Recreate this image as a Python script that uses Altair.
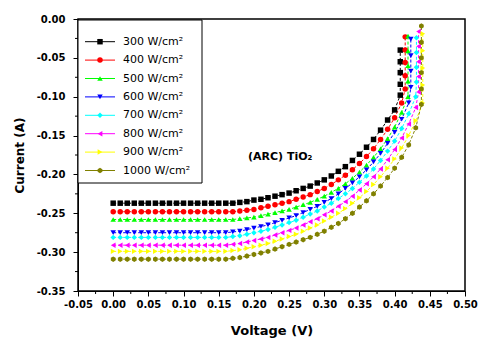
import altair as alt
import pandas as pd

# ---------------- data ----------------
SERIES = ["300 W/cm²", "400 W/cm²", "500 W/cm²", "600 W/cm²",
          "700 W/cm²", "800 W/cm²", "900 W/cm²", "1000 W/cm²"]
COLORS = ["#000000", "#FF0000", "#00FF00", "#0000FF",
          "#00FFFF", "#FF00FF", "#FFFF00", "#808000"]
HEX = "M0,-1L0.866,-0.5L0.866,0.5L0,1L-0.866,0.5L-0.866,-0.5Z"
SHAPES = ["square", "circle", "triangle-up", "triangle-down",
          "diamond", "triangle-left", "triangle-right", HEX]

V_GRID = [0.00, 0.01, 0.02, 0.03, 0.04, 0.05, 0.06, 0.07, 0.08, 0.09,
          0.10, 0.11, 0.12, 0.13, 0.14, 0.15, 0.16, 0.17, 0.18, 0.19,
          0.20, 0.21, 0.22, 0.23, 0.24, 0.25, 0.26, 0.27, 0.28, 0.29,
          0.30, 0.31, 0.32, 0.33, 0.34, 0.35, 0.36, 0.37, 0.38, 0.39,
          0.40, 0.41, 0.42, 0.43, 0.44]

I_300 = [-0.237, -0.237, -0.237, -0.237, -0.237, -0.237, -0.237, -0.237, -0.237,
         -0.237, -0.237, -0.237, -0.237, -0.237, -0.237, -0.237, -0.237, -0.237,
         -0.236, -0.235, -0.233, -0.232, -0.230, -0.228, -0.226, -0.224, -0.221,
         -0.218, -0.215, -0.211, -0.207, -0.202, -0.196, -0.190, -0.182, -0.174,
         -0.165, -0.155, -0.143, -0.130, -0.117]
TV_300 = [0.408, 0.408, 0.408, 0.408, 0.408]
TI_300 = [-0.098, -0.084, -0.069, -0.055, -0.040]

I_400 = [-0.248, -0.248, -0.248, -0.248, -0.248, -0.248, -0.248, -0.248, -0.248,
         -0.248, -0.248, -0.248, -0.248, -0.248, -0.248, -0.248, -0.248, -0.248,
         -0.247, -0.246, -0.245, -0.243, -0.241, -0.239, -0.237, -0.235, -0.232,
         -0.229, -0.226, -0.222, -0.218, -0.213, -0.207, -0.201, -0.194, -0.186,
         -0.177, -0.167, -0.155, -0.142, -0.127, -0.108]
TV_400 = [0.415, 0.415, 0.415, 0.415, 0.415]
TI_400 = [-0.090, -0.073, -0.056, -0.040, -0.023]

I_500 = [-0.258, -0.258, -0.258, -0.258, -0.258, -0.258, -0.258, -0.258, -0.258,
         -0.258, -0.258, -0.258, -0.258, -0.258, -0.258, -0.258, -0.258, -0.258,
         -0.257, -0.256, -0.255, -0.253, -0.251, -0.249, -0.247, -0.245, -0.242,
         -0.239, -0.236, -0.232, -0.228, -0.223, -0.218, -0.212, -0.205, -0.197,
         -0.188, -0.178, -0.167, -0.154, -0.139, -0.120]
TV_500 = [0.419, 0.419, 0.419, 0.419, 0.419]
TI_500 = [-0.100, -0.080, -0.060, -0.041, -0.022]

I_600 = [-0.275, -0.275, -0.275, -0.275, -0.275, -0.275, -0.275, -0.275, -0.275,
         -0.275, -0.275, -0.275, -0.275, -0.275, -0.275, -0.275, -0.275,
         -0.274, -0.273, -0.271, -0.269, -0.267, -0.265, -0.262, -0.259, -0.256,
         -0.253, -0.249, -0.245, -0.241, -0.236, -0.231, -0.225, -0.218, -0.211,
         -0.203, -0.194, -0.184, -0.173, -0.160, -0.146, -0.129, -0.108]
TV_600 = [0.423, 0.423, 0.423, 0.423]
TI_600 = [-0.088, -0.067, -0.047, -0.026]

I_700 = [-0.281, -0.281, -0.281, -0.281, -0.281, -0.281, -0.281, -0.281, -0.281,
         -0.281, -0.281, -0.281, -0.281, -0.281, -0.281, -0.281, -0.281,
         -0.280, -0.279, -0.277, -0.275, -0.273, -0.271, -0.268, -0.265, -0.262,
         -0.259, -0.255, -0.251, -0.247, -0.242, -0.237, -0.231, -0.225, -0.218,
         -0.210, -0.202, -0.193, -0.182, -0.170, -0.157, -0.141, -0.122, -0.100]
TV_700 = [0.431, 0.431, 0.431, 0.431]
TI_700 = [-0.081, -0.062, -0.043, -0.024]

I_800 = [-0.291, -0.291, -0.291, -0.291, -0.291, -0.291, -0.291, -0.291, -0.291,
         -0.291, -0.291, -0.291, -0.291, -0.291, -0.291, -0.291, -0.291,
         -0.290, -0.289, -0.287, -0.285, -0.283, -0.281, -0.278, -0.275, -0.272,
         -0.269, -0.265, -0.261, -0.257, -0.252, -0.247, -0.241, -0.235, -0.228,
         -0.220, -0.212, -0.203, -0.193, -0.181, -0.168, -0.153, -0.135, -0.114]
TV_800 = [0.434, 0.434, 0.434, 0.434, 0.434]
TI_800 = [-0.094, -0.074, -0.055, -0.035, -0.016]

I_900 = [-0.299, -0.299, -0.299, -0.299, -0.299, -0.299, -0.299, -0.299, -0.299,
         -0.299, -0.299, -0.299, -0.299, -0.299, -0.299, -0.299, -0.299,
         -0.298, -0.297, -0.295, -0.293, -0.291, -0.289, -0.286, -0.283, -0.280,
         -0.277, -0.273, -0.269, -0.265, -0.260, -0.255, -0.250, -0.244, -0.237,
         -0.230, -0.222, -0.213, -0.203, -0.192, -0.180, -0.166, -0.150, -0.131,
         -0.108]
TV_900 = [0.440, 0.440, 0.440, 0.440]
TI_900 = [-0.085, -0.063, -0.041, -0.019]

I_1000 = [-0.309, -0.309, -0.309, -0.309, -0.309, -0.309, -0.309, -0.309, -0.309,
          -0.309, -0.309, -0.309, -0.309, -0.309, -0.309, -0.309, -0.309,
          -0.308, -0.307, -0.305, -0.303, -0.301, -0.299, -0.296, -0.293, -0.290,
          -0.287, -0.284, -0.281, -0.277, -0.273, -0.268, -0.263, -0.257, -0.250,
          -0.242, -0.234, -0.225, -0.215, -0.204, -0.192, -0.178, -0.162, -0.140]
TV_1000 = [0.438, 0.438, 0.438, 0.438, 0.438, 0.438]
TI_1000 = [-0.110, -0.090, -0.069, -0.050, -0.030, -0.009]

X_TICKS = [-0.05, 0.0, 0.05, 0.1, 0.15, 0.2, 0.25, 0.3, 0.35, 0.4, 0.45, 0.5]
X_MINOR = [-0.025, 0.025, 0.075, 0.125, 0.175, 0.225, 0.275, 0.325, 0.375,
           0.425, 0.475]
Y_TICKS = [-0.35, -0.3, -0.25, -0.2, -0.15, -0.1, -0.05, 0.0]
Y_MINOR = [-0.325, -0.275, -0.225, -0.175, -0.125, -0.075, -0.025]

MAIN = [I_300, I_400, I_500, I_600, I_700, I_800, I_900, I_1000]
TAIL_V = [TV_300, TV_400, TV_500, TV_600, TV_700, TV_800, TV_900, TV_1000]
TAIL_I = [TI_300, TI_400, TI_500, TI_600, TI_700, TI_800, TI_900, TI_1000]

rows = []
for name, im, tv, ti in zip(SERIES, MAIN, TAIL_V, TAIL_I):
    vs = V_GRID[:len(im)] + tv
    cs = im + ti
    for k, (v, c) in enumerate(zip(vs, cs)):
        rows.append({"series": name, "V": v, "I": c, "idx": k})
df = pd.DataFrame(rows)

leg_df = pd.DataFrame({"series": SERIES, "label": SERIES,
                       "ly": [22.7 + 18.4 * k for k in range(len(SERIES))]})

# ---------------- encodings ----------------
label_expr = "replace(format(datum.value, '.2f'), '\u2212', '-')"

x_axis = alt.Axis(title="Voltage (V)", values=X_TICKS, labelExpr=label_expr,
                  labelOverlap=False, labelFlush=False, grid=False, tickSize=5,
                  labelPadding=3, titlePadding=15,
                  labelFont="DejaVu Sans", labelFontWeight="bold", labelFontSize=10,
                  titleFont="DejaVu Sans", titleFontWeight="bold", titleFontSize=13,
                  domainColor="black", tickColor="black", labelColor="black",
                  titleColor="black")
y_axis = alt.Axis(title="Current (A)", values=Y_TICKS, labelExpr=label_expr,
                  labelOverlap=False, labelFlush=False, grid=False, tickSize=5,
                  labelPadding=8, titlePadding=10,
                  labelFont="DejaVu Sans", labelFontWeight="bold", labelFontSize=10,
                  titleFont="DejaVu Sans", titleFontWeight="bold", titleFontSize=12,
                  domainColor="black", tickColor="black", labelColor="black",
                  titleColor="black")
x_scale = alt.Scale(domain=[-0.05, 0.5], nice=False, zero=False)
y_scale = alt.Scale(domain=[-0.35, 0.0], nice=False, zero=False)
x_enc = alt.X("V:Q", scale=x_scale, axis=x_axis)
y_enc = alt.Y("I:Q", scale=y_scale, axis=y_axis)
color_enc = alt.Color("series:N", scale=alt.Scale(domain=SERIES, range=COLORS), legend=None)
shape_enc = alt.Shape("series:N", scale=alt.Scale(domain=SERIES, range=SHAPES), legend=None)

base = alt.Chart(df)
lines = base.mark_line(strokeWidth=1, strokeDash=[3, 2]).encode(
    x=x_enc, y=y_enc, color=color_enc, detail="series:N", order="idx:Q")
points = base.mark_point(filled=True, size=30, opacity=1).encode(
    x=x_enc, y=y_enc, color=color_enc, shape=shape_enc)

minor_x = alt.Chart(pd.DataFrame({"V": X_MINOR})).mark_rule(
    color="black", strokeWidth=1).encode(
    x=x_enc, y=alt.value(272), y2=alt.value(275))
minor_y = alt.Chart(pd.DataFrame({"I": Y_MINOR})).mark_rule(
    color="black", strokeWidth=1).encode(
    y=y_enc, x=alt.value(0), x2=alt.value(-3))

note = alt.Chart(pd.DataFrame({"V": [0.1916], "I": [-0.178], "t": ["(ARC) TiO\u2082"]})).mark_text(
    align="left", baseline="middle", font="DejaVu Sans", fontWeight="bold",
    fontSize=11, color="black").encode(x=x_enc, y=y_enc, text="t:N")

box = alt.Chart(pd.DataFrame({"a": [0]})).mark_rect(
    fill="white", stroke="black", strokeWidth=1).encode(
    x=alt.value(0), x2=alt.value(124), y=alt.value(1), y2=alt.value(164))
leg_lines = alt.Chart(leg_df).mark_rule(strokeWidth=1).encode(
    x=alt.value(7), x2=alt.value(37), y=alt.Y("ly:Q", scale=None), color=color_enc)
leg_pts = alt.Chart(leg_df).mark_point(filled=True, size=30, opacity=1).encode(
    x=alt.value(22), y=alt.Y("ly:Q", scale=None), color=color_enc, shape=shape_enc)
leg_text = alt.Chart(leg_df).mark_text(
    align="left", baseline="middle", font="DejaVu Sans", fontSize=11, color="black").encode(
    x=alt.value(45), y=alt.Y("ly:Q", scale=None), text="label:N")

chart = alt.layer(lines, points, minor_x, minor_y, note, box,
                  leg_lines, leg_pts, leg_text).properties(
    width=387, height=272,
    autosize=alt.AutoSizeParams(type="none"),
    padding={"left": 78, "top": 19, "right": 14, "bottom": 47},
    background="white",
).configure_view(stroke="black", strokeWidth=1.5)

chart.save("out.html", embed_options={"renderer": "svg", "actions": False})
